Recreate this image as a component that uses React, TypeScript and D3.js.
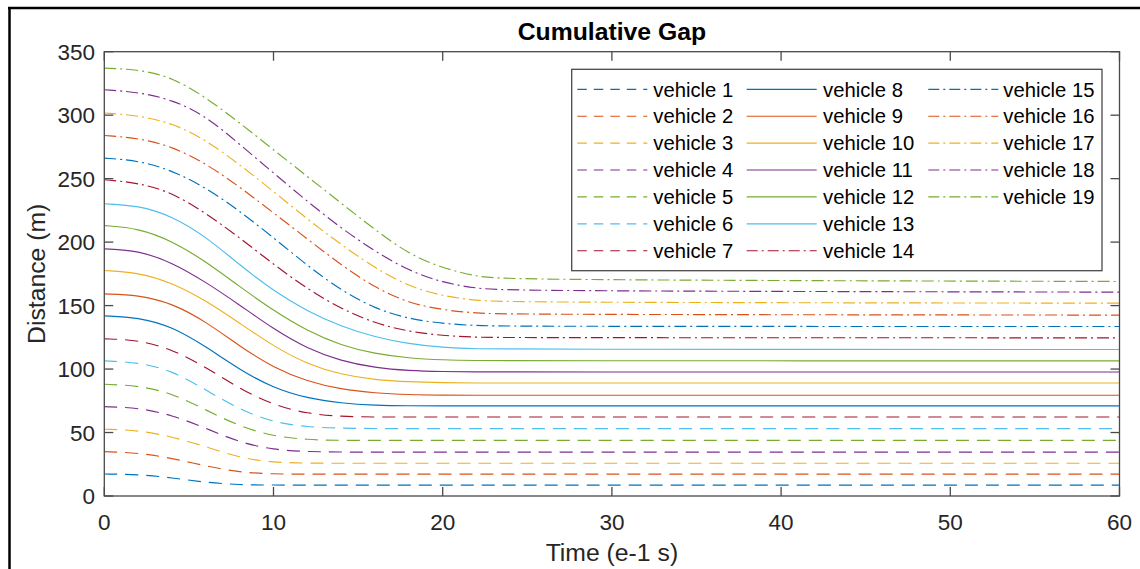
import React from "react";
import * as d3 from "d3";

const timeSteps = [0, 2, 4, 6, 8, 10, 12, 14, 16, 18, 20, 22, 24, 60];

// cumulative gap (m) per vehicle at timeSteps
const vehicle1 = [17.3, 17.1, 14.4, 10.6, 8.8, 8.6, 8.6, 8.6, 8.6, 8.6, 8.6, 8.6, 8.6, 8.6];
const vehicle2 = [34.9, 34.1, 29.8, 23.6, 18.6, 17.3, 17.2, 17.2, 17.2, 17.2, 17.2, 17.2, 17.2, 17.2];
const vehicle3 = [52.6, 51.8, 46.8, 38.9, 30.0, 26.4, 25.9, 25.8, 25.8, 25.8, 25.8, 25.8, 25.8, 25.8];
const vehicle4 = [70.4, 69.6, 63.8, 53.4, 42.2, 36.4, 34.9, 34.6, 34.6, 34.6, 34.6, 34.6, 34.6, 34.6];
const vehicle5 = [88.0, 87.0, 81.0, 67.8, 54.8, 47.0, 44.3, 43.8, 43.8, 43.8, 43.8, 43.8, 43.8, 43.8];
const vehicle6 = [106.4, 105.4, 98.8, 83.6, 68.0, 58.0, 54.3, 53.4, 53.1, 53.1, 53.1, 53.1, 53.1, 53.1];
const vehicle7 = [123.8, 123.0, 115.6, 101.5, 84.5, 71.7, 64.8, 62.6, 62.2, 62.2, 62.2, 62.2, 62.2, 62.2];
const vehicle8 = [141.9, 140.8, 133.5, 117.7, 99.5, 85.0, 77.0, 73.1, 71.4, 71.0, 71.0, 71.0, 71.0, 71.0];
const vehicle9 = [159.2, 158.4, 151.9, 137.4, 118.0, 101.0, 90.3, 84.0, 81.0, 79.8, 79.4, 79.4, 79.4, 79.4];
const vehicle10 = [177.6, 176.1, 168.0, 154.0, 136.1, 118.0, 103.8, 95.6, 91.5, 89.9, 89.3, 89.0, 89.0, 89.0];
const vehicle11 = [194.7, 193.5, 184.0, 168.5, 150.5, 131.5, 116.0, 106.3, 101.0, 98.7, 98.0, 97.7, 97.7, 97.7];
const vehicle12 = [213.0, 211.0, 201.0, 184.7, 165.0, 146.0, 130.0, 118.6, 112.0, 108.6, 107.2, 106.7, 106.5, 106.5];
const vehicle13 = [230.2, 228.9, 220.5, 204.4, 182.0, 161.5, 145.5, 133.5, 125.2, 119.8, 117.0, 115.9, 115.6, 115.4];
const vehicle14 = [249.1, 246.8, 239.1, 222.8, 203.5, 182.5, 163.0, 147.5, 136.0, 129.5, 126.3, 125.0, 124.7, 124.6];
const vehicle15 = [266.2, 264.3, 256.5, 243.0, 224.5, 203.5, 181.5, 162.0, 147.5, 139.5, 135.8, 134.2, 133.6, 133.5];
const vehicle16 = [284.0, 282.0, 275.4, 262.0, 243.5, 223.0, 202.5, 182.0, 164.0, 152.0, 146.5, 144.0, 143.0, 142.5];
const vehicle17 = [301.7, 299.8, 293.8, 280.6, 261.0, 240.0, 218.0, 198.0, 179.5, 165.0, 157.5, 154.0, 152.5, 151.9];
const vehicle18 = [320.0, 318.2, 312.2, 299.5, 277.0, 254.5, 232.0, 211.0, 192.6, 177.5, 168.0, 163.5, 161.5, 160.6];
const vehicle19 = [337.1, 336.0, 330.0, 314.0, 294.0, 272.7, 251.7, 230.7, 209.7, 190.5, 179.5, 172.8, 170.2, 169.0];

const series = [
    vehicle1, vehicle2, vehicle3, vehicle4, vehicle5, vehicle6, vehicle7,
    vehicle8, vehicle9, vehicle10, vehicle11, vehicle12, vehicle13, vehicle14,
    vehicle15, vehicle16, vehicle17, vehicle18, vehicle19,
];
const labels = series.map((_, i) => `vehicle ${i + 1}`);
// line style per vehicle: dashed 1-7, solid 8-13, dash-dot 14-19
const styles = series.map((_, i) => (i < 7 ? "dash" : i < 13 ? "solid" : "dashdot"));

const xTicks = [0, 10, 20, 30, 40, 50, 60];
const yTicks = [0, 50, 100, 150, 200, 250, 300, 350];

const colors = ["#0072BD", "#D95319", "#EDB120", "#7E2F8E", "#77AC30", "#4DBEEE", "#A2142F"];
const plotDash: Record<string, string | undefined> = {dash: "13,8", solid: undefined, dashdot: "12,4,2,4"};
const legendDash: Record<string, string | undefined> = {dash: "9.5,7", solid: undefined, dashdot: "11,4,2,4"};

const FONT = "'Liberation Sans', Arial, Helvetica, sans-serif";
const AXIS = "#4a4a4a";

const App = () => {
    const left = 104.3, right = 1119.5, top = 51.7, bottom = 496;

    const x = d3.scaleLinear().domain([0, 60]).range([left, right]);
    const y = d3.scaleLinear().domain([0, 350]).range([bottom, top]);

    const line = d3.line<number>()
        .x((_, i) => x(timeSteps[i]))
        .y(d => y(d))
        .curve(d3.curveBasis);

    const tickLen = 9;

    // legend geometry
    const legLeft = 571.7, legTop = 69.3, legRight = 1102, legBottom = 270.7;
    const rowH = 26.9, firstRow = 89.3;
    const sampleX = [577.3, 746.7, 928.3];
    const textX = [653.3, 823, 1003.3];
    const sampleW = 70;

    return (
        <svg width={1140} height={569}
             style={{position: "absolute", left: 0, top: 0, background: "#fff"}}
             fontFamily={FONT}>
            <rect x={0} y={0} width={1140} height={569} fill="#fff"/>
            {/* outer frame */}
            <line x1={8} x2={1140} y1={8} y2={8} stroke="#000" strokeWidth={2.5}/>
            <line x1={9.5} x2={9.5} y1={7} y2={569} stroke="#000" strokeWidth={2.5}/>

            <defs>
                <clipPath id="plot-clip">
                    <rect x={left} y={top} width={right - left} height={bottom - top}/>
                </clipPath>
            </defs>

            <g clipPath="url(#plot-clip)">
                {series.map((s, i) => (
                    <path key={i} d={line(s) || ""} fill="none"
                          stroke={colors[i % 7]} strokeWidth={1.15}
                          strokeDasharray={plotDash[styles[i]]}/>
                ))}
            </g>

            {/* axes box */}
            <rect x={left} y={top} width={right - left} height={bottom - top}
                  fill="none" stroke={AXIS} strokeWidth={1.3}/>
            {xTicks.map(t => (
                <g key={"x" + t}>
                    <line x1={x(t)} x2={x(t)} y1={bottom} y2={bottom - tickLen} stroke={AXIS} strokeWidth={1.3}/>
                    <line x1={x(t)} x2={x(t)} y1={top} y2={top + tickLen} stroke={AXIS} strokeWidth={1.3}/>
                    <text x={x(t)} y={530} textAnchor="middle" fontSize={22.5} fill="#262626">{t}</text>
                </g>
            ))}
            {yTicks.map(t => (
                <g key={"y" + t}>
                    <line x1={left} x2={left + tickLen} y1={y(t)} y2={y(t)} stroke={AXIS} strokeWidth={1.3}/>
                    <line x1={right} x2={right - tickLen} y1={y(t)} y2={y(t)} stroke={AXIS} strokeWidth={1.3}/>
                    <text x={95} y={y(t)} dy="0.36em" textAnchor="end" fontSize={22.5} fill="#262626">{t}</text>
                </g>
            ))}

            <text x={(left + right) / 2} y={40} textAnchor="middle" fontSize={24.75}
                  fontWeight="bold" fill="#000">Cumulative Gap</text>
            <text x={(left + right) / 2} y={561} textAnchor="middle" fontSize={24.75}
                  fill="#262626">Time (e-1 s)</text>
            <text transform={`translate(45, ${(top + bottom) / 2}) rotate(-90)`} textAnchor="middle"
                  fontSize={24.75} fill="#262626">Distance (m)</text>

            {/* legend */}
            <rect x={legLeft} y={legTop} width={legRight - legLeft} height={legBottom - legTop}
                  fill="#fff" stroke={AXIS} strokeWidth={1.3}/>
            {labels.map((lab, i) => {
                const col = Math.floor(i / 7), row = i % 7;
                const cy = firstRow + row * rowH;
                return (
                    <g key={lab}>
                        <line x1={sampleX[col]} x2={sampleX[col] + sampleW} y1={cy} y2={cy}
                              stroke={colors[i % 7]} strokeWidth={1.15}
                              strokeDasharray={legendDash[styles[i]]}/>
                        <text x={textX[col]} y={cy} dy="0.36em" fontSize={20.25} fill="#000">{lab}</text>
                    </g>
                );
            })}
        </svg>
    );
};

export default App;
